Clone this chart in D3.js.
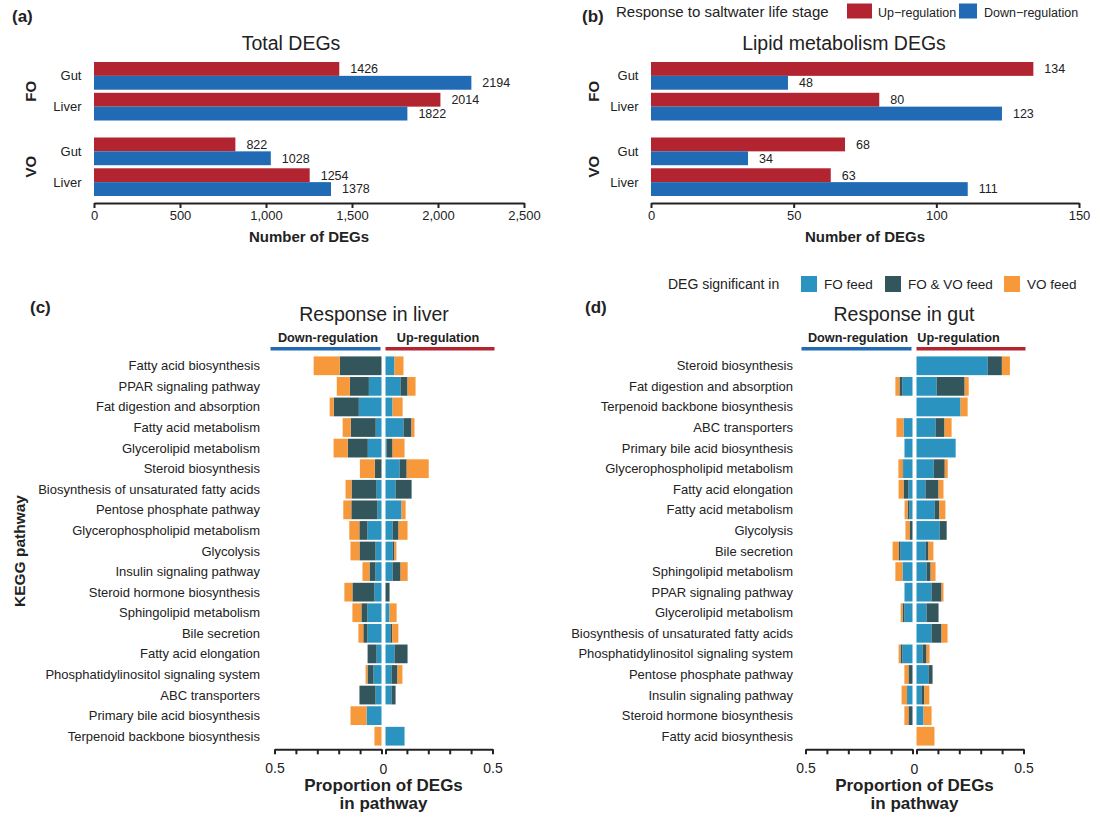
<!DOCTYPE html>
<html>
<head>
<meta charset="utf-8">
<script src="https://cdn.jsdelivr.net/npm/d3@7"></script>
<style>
  body { margin: 0; background: #fff; }
  text { font-family: "Liberation Sans", Arial, Helvetica, sans-serif; fill: #222; }
</style>
</head>
<body>
<script>
// ---- data ----
const diets = ["FO", "VO"];
const tissues = ["Gut", "Liver"];

// order: FO gut, FO liver, VO gut, VO liver
const totalUp = [1426, 2014, 822, 1254];
const totalDown = [2194, 1822, 1028, 1378];
const lipidUp = [134, 80, 68, 63];
const lipidDown = [48, 123, 34, 111];
const totalTicks = [0, 500, 1000, 1500, 2000, 2500];
const lipidTicks = [0, 50, 100, 150];

const liverPathways = ["Fatty acid biosynthesis", "PPAR signaling pathway", "Fat digestion and absorption",
  "Fatty acid metabolism", "Glycerolipid metabolism", "Steroid biosynthesis",
  "Biosynthesis of unsaturated fatty acids", "Pentose phosphate pathway", "Glycerophospholipid metabolism",
  "Glycolysis", "Insulin signaling pathway", "Steroid hormone biosynthesis", "Sphingolipid metabolism",
  "Bile secretion", "Fatty acid elongation", "Phosphatidylinositol signaling system", "ABC transporters",
  "Primary bile acid biosynthesis", "Terpenoid backbone biosynthesis"];
const liverDownFO   = [0, .059, .106, .027, .064, 0, .023, .019, .066, .028, .028, .033, .066, .066, .023, .0375, .028, .070, 0];
const liverDownBoth = [.195, .089, .117, .117, .094, .031, .117, .122, .0375, .075, .028, .103, .028, .019, .042, .028, .075, 0, 0];
const liverDownVO   = [.122, .061, .019, .0375, .066, .070, .028, .0375, .047, .042, .033, .0375, .042, .023, 0, .009, 0, .075, .033];
const liverUpFO     = [.042, .070, .033, .084, .005, .066, .047, .075, .033, .033, .033, 0, .019, .023, .042, .028, .028, 0, .089];
const liverUpBoth   = [0, .033, 0, .0375, .028, .033, .075, 0, .028, .009, .0375, .019, 0, .009, .061, .028, .019, 0, 0];
const liverUpVO     = [.042, .0375, .047, .014, .056, .103, 0, .019, .042, .009, .033, 0, .033, .028, 0, .023, 0, 0, 0];

const gutPathways = ["Steroid biosynthesis", "Fat digestion and absorption", "Terpenoid backbone biosynthesis",
  "ABC transporters", "Primary bile acid biosynthesis", "Glycerophospholipid metabolism",
  "Fatty acid elongation", "Fatty acid metabolism", "Glycolysis", "Bile secretion", "Sphingolipid metabolism",
  "PPAR signaling pathway", "Glycerolipid metabolism", "Biosynthesis of unsaturated fatty acids",
  "Phosphatidylinositol signaling system", "Pentose phosphate pathway", "Insulin signaling pathway",
  "Steroid hormone biosynthesis", "Fatty acid biosynthesis"];
const gutDownFO   = [0, .047, 0, .042, .0375, .042, .019, .014, 0, .056, .047, .0375, .0375, 0, .047, 0, .023, 0, 0];
const gutDownBoth = [0, .014, 0, 0, 0, .005, .023, .009, .014, .009, 0, 0, .009, 0, .009, .019, .005, .019, 0];
const gutDownVO   = [0, .019, 0, .033, 0, .019, .023, .014, .019, .028, .033, 0, .009, 0, .009, .019, .023, .019, 0];
const gutUpFO     = [.333, .094, .206, .089, .183, .080, .042, .084, .108, .042, .047, .070, .047, .070, .028, .056, .023, .033, 0];
const gutUpBoth   = [.066, .131, 0, .042, 0, .052, .061, .023, .033, .014, .019, .047, .056, .047, .019, .019, .014, 0, 0];
const gutUpVO     = [.0375, .019, .033, .033, 0, .014, .023, .028, 0, .023, .023, .009, 0, .028, .014, 0, .023, .0375, .084];

const propTicks = [0, 0.1, 0.2, 0.3, 0.4, 0.5];

const upColor = "#b22430";
const downColor = "#216ab4";
const feedKeys = ["fo", "both", "vo"];
const feedLabels = ["FO feed", "FO & VO feed", "VO feed"];
const feedColors = ["#2a93bf", "#33565c", "#f7993a"];

const svg = d3.select("body").append("svg")
  .attr("width", 1101)
  .attr("height", 820);

function styleAxis(g) {
  g.select(".domain").attr("stroke", "#222").attr("stroke-width", 2);
  g.selectAll(".tick line").attr("stroke", "#222").attr("stroke-width", 2);
  g.selectAll(".tick text").style("fill", "#222");
}

// ---- panels (a) and (b) ----
function drawCountPanel(up, down, o) {
  let x = d3.scaleLinear().domain([0, o.max]).range([o.x0, o.x1]);
  let facetY = d3.scaleBand().domain(diets).range([62, 196]).paddingInner(0.225);

  let rows = [];
  diets.forEach((d, i) => tissues.forEach((t, j) => {
    rows.push({ diet: d, tissue: t, up: up[i * 2 + j], down: down[i * 2 + j] });
  }));

  let g = svg.append("g");

  diets.forEach(d => {
    let y = d3.scaleBand().domain(tissues)
      .range([facetY(d), facetY(d) + facetY.bandwidth()])
      .paddingInner(0.1);
    let h = y.bandwidth() / 2;
    let sub = rows.filter(r => r.diet == d);

    g.selectAll(null).data(sub).enter().append("rect")
      .attr("x", x(0)).attr("y", r => y(r.tissue))
      .attr("width", r => x(r.up) - x(0)).attr("height", h)
      .attr("fill", upColor);
    g.selectAll(null).data(sub).enter().append("rect")
      .attr("x", x(0)).attr("y", r => y(r.tissue) + h)
      .attr("width", r => x(r.down) - x(0)).attr("height", h)
      .attr("fill", downColor);

    g.selectAll(null).data(sub).enter().append("text")
      .attr("x", r => x(r.up) + 11).attr("y", r => y(r.tissue) + h / 2 + 4.3)
      .text(r => r.up).style("font-size", "12.5px");
    g.selectAll(null).data(sub).enter().append("text")
      .attr("x", r => x(r.down) + 11).attr("y", r => y(r.tissue) + h * 1.5 + 4.3)
      .text(r => r.down).style("font-size", "12.5px");

    g.selectAll(null).data(sub).enter().append("text")
      .attr("x", o.labelX).attr("y", r => y(r.tissue) + h + 4.5)
      .attr("text-anchor", "end")
      .text(r => r.tissue).style("font-size", "13px");

    g.append("text")
      .attr("transform", "translate(" + (o.facetX) + "," + (facetY(d) + facetY.bandwidth() / 2) + ") rotate(-90)")
      .attr("text-anchor", "middle")
      .text(d)
      .style("font-size", "15px").style("font-weight", "bold");
  });

  g.append("g")
    .attr("transform", "translate(0," + 203 + ")")
    .call(d3.axisBottom(x).tickValues(o.ticks).tickFormat(d3.format(",")).tickSize(5).tickSizeOuter(0).tickPadding(3))
    .call(a => a.selectAll(".tick text").style("font-size", "13px").attr("font-family", null))
    .call(styleAxis);

  g.append("text")
    .attr("x", (o.x0 + o.x1) / 2).attr("y", 242)
    .attr("text-anchor", "middle")
    .text("Number of DEGs")
    .style("font-size", "15px").style("font-weight", "bold");

  g.append("text")
    .attr("x", o.titleX).attr("y", 49.5)
    .attr("text-anchor", "middle")
    .text(o.title)
    .style("font-size", "19.5px");

  g.append("text")
    .attr("x", o.tagX).attr("y", 22)
    .text(o.tag)
    .style("font-size", "17px").style("font-weight", "bold");
}

drawCountPanel(totalUp, totalDown, {
  max: 2500, x0: 94, x1: 524, ticks: totalTicks, labelX: 81.5, facetX: 36,
  title: "Total DEGs", titleX: 291, tag: "(a)", tagX: 12
});
drawCountPanel(lipidUp, lipidDown, {
  max: 150, x0: 651, x1: 1079, ticks: lipidTicks, labelX: 638.5, facetX: 599,
  title: "Lipid metabolism DEGs", titleX: 844, tag: "(b)", tagX: 582
});

// legend for (a)/(b)
let legTop = svg.append("g");
legTop.append("text").attr("x", 616).attr("y", 17).text("Response to saltwater life stage").style("font-size", "15px");
legTop.append("rect").attr("x", 847).attr("y", 3.5).attr("width", 25).attr("height", 15).attr("fill", upColor);
legTop.append("text").attr("x", 878).attr("y", 16.5).text("Up\u2212regulation").style("font-size", "12.5px");
legTop.append("rect").attr("x", 959).attr("y", 3.5).attr("width", 18).attr("height", 15).attr("fill", downColor);
legTop.append("text").attr("x", 984).attr("y", 16.5).text("Down\u2212regulation").style("font-size", "12.5px");

// legend for (c)/(d)
let legFeed = svg.append("g");
legFeed.append("text").attr("x", 668).attr("y", 289).text("DEG significant in").style("font-size", "14px");
let feedX = [801, 885, 1004];
feedLabels.forEach((l, i) => {
  legFeed.append("rect").attr("x", feedX[i]).attr("y", 276).attr("width", 16).attr("height", 16).attr("fill", feedColors[i]);
  legFeed.append("text").attr("x", feedX[i] + 23).attr("y", 289).text(l).style("font-size", "13.5px");
});

// ---- panels (c) and (d) ----
function drawPathwayPanel(pathways, dFO, dBoth, dVO, uFO, uBoth, uVO, o) {
  let g = svg.append("g");
  let zeroL = o.cx - 2, zeroR = o.cx + 2;
  let xL = d3.scaleLinear().domain([0, 0.5]).range([zeroL, zeroL - 107]);
  let xR = d3.scaleLinear().domain([0, 0.5]).range([zeroR, zeroR + 107]);
  let y = d3.scaleBand().domain(pathways).range([355.5, 746.5]).paddingInner(0.09).paddingOuter(0.045);

  let downData = pathways.map((p, i) => ({ pathway: p, fo: dFO[i], both: dBoth[i], vo: dVO[i] }));
  let upData = pathways.map((p, i) => ({ pathway: p, fo: uFO[i], both: uBoth[i], vo: uVO[i] }));
  let stack = d3.stack().keys(feedKeys);

  g.append("g").selectAll("g")
    .data(stack(downData)).enter().append("g")
    .attr("fill", (d, i) => feedColors[i])
    .selectAll("rect").data(d => d).enter().append("rect")
    .attr("x", d => xL(d[1]))
    .attr("width", d => xL(d[0]) - xL(d[1]))
    .attr("y", d => y(d.data.pathway))
    .attr("height", y.bandwidth());

  g.append("g").selectAll("g")
    .data(stack(upData)).enter().append("g")
    .attr("fill", (d, i) => feedColors[i])
    .selectAll("rect").data(d => d).enter().append("rect")
    .attr("x", d => xR(d[0]))
    .attr("width", d => xR(d[1]) - xR(d[0]))
    .attr("y", d => y(d.data.pathway))
    .attr("height", y.bandwidth());

  g.selectAll(null).data(pathways).enter().append("text")
    .attr("x", o.labelX).attr("y", p => y(p) + y.bandwidth() / 2 + 4.5)
    .attr("text-anchor", "end")
    .text(p => p)
    .style("font-size", "13px");

  // axes
  let fmt = d => d == 0.5 ? "0.5" : "";
  g.append("g").attr("transform", "translate(0,749.3)")
    .call(d3.axisBottom(xL).tickValues(propTicks).tickFormat(fmt).tickSize(5).tickSizeOuter(0).tickPadding(9))
    .call(a => a.selectAll(".tick text").style("font-size", "14px").attr("font-family", null))
    .call(styleAxis);
  g.append("g").attr("transform", "translate(0,749.3)")
    .call(d3.axisBottom(xR).tickValues(propTicks).tickFormat(fmt).tickSize(5).tickSizeOuter(0).tickPadding(9))
    .call(a => a.selectAll(".tick text").style("font-size", "14px").attr("font-family", null))
    .call(styleAxis);
  g.append("text").attr("x", o.cx).attr("y", 773.5).attr("text-anchor", "middle")
    .text("0").style("font-size", "14px");

  g.append("text").attr("x", o.cx).attr("y", 791).attr("text-anchor", "middle")
    .text("Proportion of DEGs").style("font-size", "17px").style("font-weight", "bold");
  g.append("text").attr("x", o.cx).attr("y", 809).attr("text-anchor", "middle")
    .text("in pathway").style("font-size", "17px").style("font-weight", "bold");

  // direction headers
  g.append("line").attr("x1", zeroL - 111).attr("x2", zeroL - 1).attr("y1", 348.7).attr("y2", 348.7)
    .attr("stroke", downColor).attr("stroke-width", 3.5);
  g.append("line").attr("x1", zeroR).attr("x2", zeroR + 109).attr("y1", 348.7).attr("y2", 348.7)
    .attr("stroke", upColor).attr("stroke-width", 3.5);
  g.append("text").attr("x", o.downX).attr("y", 342.4).attr("text-anchor", "middle")
    .text("Down-regulation").style("font-size", "12.7px").style("font-weight", "bold");
  g.append("text").attr("x", o.upX).attr("y", 342.4).attr("text-anchor", "middle")
    .text("Up-regulation").style("font-size", "12.7px").style("font-weight", "bold");

  g.append("text").attr("x", o.titleX).attr("y", 321).attr("text-anchor", "middle")
    .text(o.title).style("font-size", "19.5px");
  g.append("text").attr("x", o.tagX).attr("y", 313)
    .text(o.tag).style("font-size", "17px").style("font-weight", "bold");
}

drawPathwayPanel(liverPathways, liverDownFO, liverDownBoth, liverDownVO, liverUpFO, liverUpBoth, liverUpVO, {
  cx: 383.5, labelX: 260, downX: 328, upX: 438, title: "Response in liver", titleX: 374, tag: "(c)", tagX: 30
});
drawPathwayPanel(gutPathways, gutDownFO, gutDownBoth, gutDownVO, gutUpFO, gutUpBoth, gutUpVO, {
  cx: 914.5, labelX: 793, downX: 858, upX: 958.5, title: "Response in gut", titleX: 904, tag: "(d)", tagX: 585
});

svg.append("text")
  .attr("transform", "translate(" + 25 + "," + 551 + ") rotate(-90)")
  .attr("text-anchor", "middle")
  .text("KEGG pathway")
  .style("font-size", "15.5px").style("font-weight", "bold");
</script>
</body>
</html>
